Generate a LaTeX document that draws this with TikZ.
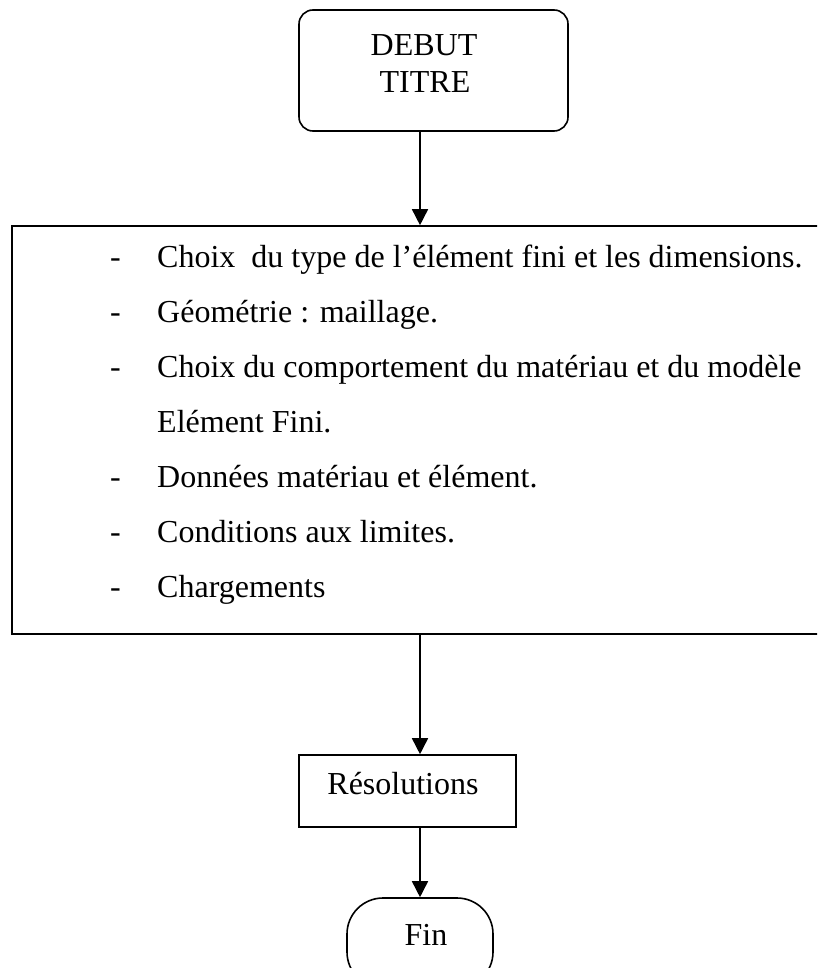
\documentclass[tikz,border=0pt]{standalone}
\usepackage{fontspec}
\setmainfont{Liberation Serif}
\usetikzlibrary{arrows.meta}
\begin{document}
\begin{tikzpicture}[x=1pt,y=-1pt,
  every node/.style={font=\fontsize{32}{37}\selectfont, inner sep=0pt},
  boxline/.style={draw=black, line width=1.6pt},
  arr/.style={line width=1.6pt, -{Triangle[length=16pt,width=16pt]}},
  item/.style={anchor=base west}
]
\useasboundingbox (0,0) rectangle (817,968);
\clip (0,0) rectangle (817,968);
% top box
\node[boxline, rounded corners=14pt, minimum width=269pt, minimum height=121pt] (debut) at (433.5,70.5) {};
\node[anchor=base] (t1) at (424,56) {DEBUT};
\node[anchor=base] (t2) at (425,93) {TITRE};
% big box
\node[boxline, minimum width=818pt, minimum height=408pt] (params) at (421,430) {};
\coordinate (ax) at (420,0);
\foreach \y/\n in {267/d1,322/d2,377/d3,487/d5,542/d6,597/d7}{
  \node[item] (\n) at (110,\y) {-};
}
\node[item] (l1) at (157,267) {Choix\ \ du type de l’élément fini et les dimensions.};
\node[item] (l2) at (157,322) {Géométrie : maillage.};
\node[item] (l3) at (157,377) {Choix du comportement du matériau et du modèle};
\node[item] (l4) at (157,432) {Elément Fini.};
\node[item] (l5) at (157,487) {Données matériau et élément.};
\node[item] (l6) at (157,542) {Conditions aux limites.};
\node[item] (l7) at (157,597) {Chargements};
% resolutions
\node[boxline, minimum width=217pt, minimum height=72pt] (res) at (407.5,791) {};
\node[anchor=base] (rt) at (403,794) {Résolutions};
% fin
\node[boxline, rounded corners=36pt, minimum width=146pt, minimum height=90pt] (fin) at (420,943) {};
\node[anchor=base] (ft) at (426,945) {Fin};
% arrows
\draw[arr] (debut.south -| ax) -- (params.north -| ax);
\draw[arr] (params.south -| ax) -- (res.north -| ax);
\draw[arr] (res.south -| ax) -- (fin.north -| ax);
\end{tikzpicture}
\end{document}
